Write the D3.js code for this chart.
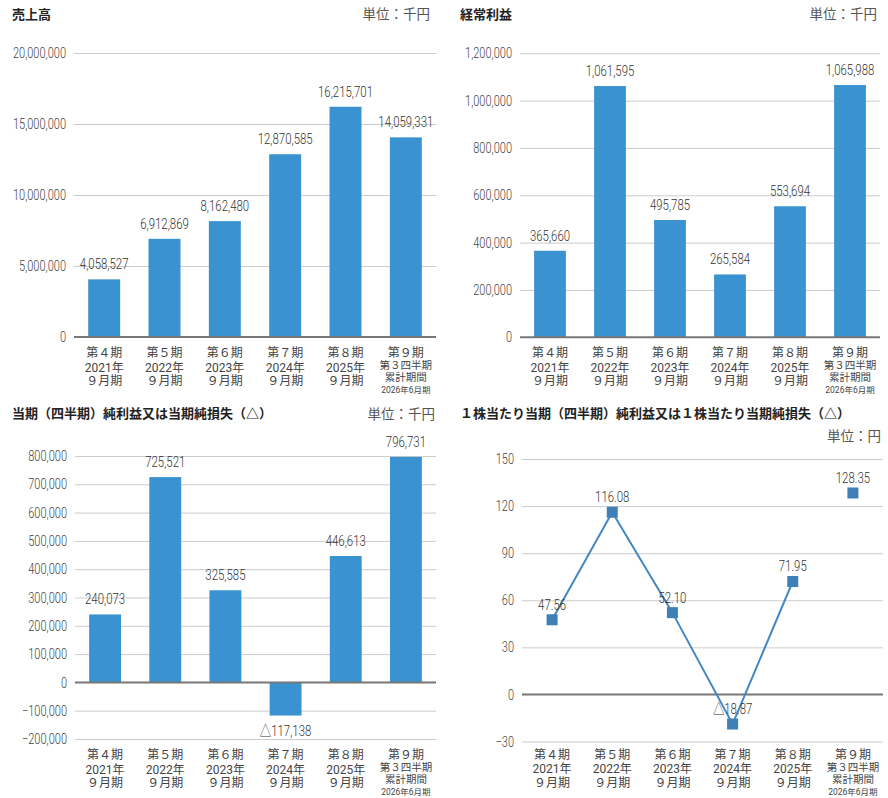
<!DOCTYPE html>
<html><head><meta charset="utf-8">
<script src="https://cdn.jsdelivr.net/npm/d3@7"></script>
<style>
body{margin:0;background:#fff;}
svg{display:block;}
.num{font-family:"Roboto","Noto Sans CJK JP",sans-serif;font-weight:300;}
.jp{font-family:"Roboto","Noto Sans CJK JP",sans-serif;}
.title{font-family:"Noto Sans CJK JP",sans-serif;font-weight:bold;}
</style></head>
<body>
<svg id="c" width="888" height="798"></svg>
<script>
// ---- data ----
const periodLabels = [
  ["第４期","2021年","９月期"],
  ["第５期","2022年","９月期"],
  ["第６期","2023年","９月期"],
  ["第７期","2024年","９月期"],
  ["第８期","2025年","９月期"],
  ["第９期","第３四半期","累計期間","2026年6月期"]
];
const categories = ["p4","p5","p6","p7","p8","p9"];
const sales = [4058527, 6912869, 8162480, 12870585, 16215701, 14059331];
const ordinaryProfit = [365660, 1061595, 495785, 265584, 553694, 1065988];
const netIncome = [240073, 725521, 325585, -117138, 446613, 796731];
const eps = [47.56, 116.08, 52.10, -18.87, 71.95, 128.35];
const epsConnected = [true, true, true, true, true, false];

const salesTicks = [0, 5000000, 10000000, 15000000, 20000000];
const profitTicks = [0, 200000, 400000, 600000, 800000, 1000000, 1200000];
const netTicks = [-200000, -100000, 0, 100000, 200000, 300000, 400000, 500000, 600000, 700000, 800000];
const epsTicks = [-30, 0, 30, 60, 90, 120, 150];

const titles = ["売上高", "経常利益", "当期（四半期）純利益又は当期純損失（△）", "１株当たり当期（四半期）純利益又は１株当たり当期純損失（△）"];
const units = ["単位：千円", "単位：千円", "単位：千円", "単位：円"];

// ---- styles ----
const BAR = "#3a93d0", LINE = "#4388c2", MARK = "#3d7fb6";
const GRID = "#cccccc", ZERO = "#777777";
const CONDENSE = 0.76;

const svg = d3.select("#c");
const fmtInt = v => (v < 0 ? "△" : "") + d3.format(",")(Math.abs(v));
const fmtDec = v => (v < 0 ? "△" : "") + d3.format(".2f")(Math.abs(v));

function frame(p) {
  const g = svg.append("g");
  g.append("text").attr("class","title").attr("x", p.titleX).attr("y", p.titleY)
    .attr("font-size", 13).attr("fill", "#222").text(p.title);
  g.append("text").attr("x", p.unitX).attr("y", p.unitY)
    .attr("text-anchor","end").attr("font-size", 13.5).attr("fill", "#555")
    .attr("font-family","Noto Sans CJK JP").text(p.unit);

  const x = d3.scaleBand().domain(categories).range(p.xr).paddingInner(0.47).paddingOuter(0.235);
  const y = d3.scaleLinear().domain(p.yd).range(p.yr);

  const yAxis = d3.axisLeft(y).tickValues(p.ticks).tickSize(-(p.xr[1]-p.xr[0])).tickPadding(8)
    .tickFormat(d => d3.format(",")(d));
  const ga = g.append("g").attr("transform", `translate(${p.xr[0]},0)`).call(yAxis);
  ga.select(".domain").remove();
  ga.selectAll(".tick line").attr("stroke", GRID).attr("stroke-width", 1);
  ga.selectAll(".tick text").attr("class","num").attr("font-size", 14.5).attr("fill", "#444");
  ga.selectAll(".tick").filter(d => d === 0).select("line").attr("stroke", "none");

  const xl = g.append("g");
  categories.forEach((c, i) => {
    const lines = periodLabels[i];
    const cx = x(c) + x.bandwidth()/2;
    const base = p.yr[0] + p.xlOff;
    const t = xl.append("text").attr("class","jp").attr("text-anchor","middle").attr("fill","#444");
    if (lines.length === 3) {
      [0, 14.5, 28].forEach((dy, k) => {
        t.append("tspan").attr("x", cx).attr("y", base + dy).attr("font-size", 12).text(lines[k]);
      });
    } else {
      const offs = [0, 12, 24, 36], sz = [12, 10.5, 10.5, 8.5];
      lines.forEach((s, k) => {
        t.append("tspan").attr("x", cx).attr("y", base + offs[k]).attr("font-size", sz[k]).text(s);
      });
    }
  });
  return {g, x, y};
}

function barChart(p, values) {
  const {g, x, y} = frame(p);
  g.selectAll("rect.bar").data(values).join("rect").attr("class","bar")
    .attr("x", (d, i) => x(categories[i]))
    .attr("width", x.bandwidth())
    .attr("y", d => y(Math.max(0, d)))
    .attr("height", d => Math.abs(y(d) - y(0)))
    .attr("fill", BAR);
  g.append("line").attr("x1", p.xr[0]).attr("x2", p.xr[1]).attr("y1", y(0)).attr("y2", y(0))
    .attr("stroke", ZERO).attr("stroke-width", 2);
  g.selectAll("text.val").data(values).join("text").attr("class","val num")
    .attr("x", (d, i) => x(categories[i]) + x.bandwidth()/2)
    .attr("y", d => d >= 0 ? y(d) - 10 : y(d) + 20)
    .attr("text-anchor","middle").attr("font-size", 15).attr("fill", "#333")
    .text(fmtInt);
}

function lineChart(p, values) {
  const {g, x, y} = frame(p);
  g.append("line").attr("x1", p.xr[0]).attr("x2", p.xr[1]).attr("y1", y(0)).attr("y2", y(0))
    .attr("stroke", ZERO).attr("stroke-width", 2);
  const cx = i => x(categories[i]) + x.bandwidth()/2;
  const line = d3.line().defined((d, i) => epsConnected[i]).x((d, i) => cx(i)).y(d => y(d));
  g.append("path").datum(values).attr("d", line).attr("fill","none")
    .attr("stroke", LINE).attr("stroke-width", 2);
  const s = 11;
  g.selectAll("rect.mk").data(values).join("rect").attr("class","mk")
    .attr("x", (d, i) => cx(i) - s/2).attr("y", d => y(d) - s/2)
    .attr("width", s).attr("height", s).attr("fill", MARK);
  g.selectAll("text.val").data(values).join("text").attr("class","val num")
    .attr("x", (d, i) => cx(i)).attr("y", d => y(d) - 10)
    .attr("text-anchor","middle").attr("font-size", 15).attr("fill", "#333")
    .text(fmtDec);
}

barChart({title: titles[0], unit: units[0], titleX: 12, titleY: 19, unitX: 430, unitY: 19,
  xr: [74, 436], yd: [0, 20000000], yr: [337, 53], ticks: salesTicks, xlOff: 20}, sales);
barChart({title: titles[1], unit: units[1], titleX: 460, titleY: 19, unitX: 877, unitY: 19,
  xr: [520, 880], yd: [0, 1200000], yr: [337.3, 53.3], ticks: profitTicks, xlOff: 20}, ordinaryProfit);
barChart({title: titles[2], unit: units[2], titleX: 12, titleY: 418, unitX: 435, unitY: 419,
  xr: [75, 436], yd: [-200000, 800000], yr: [739, 456], ticks: netTicks, xlOff: 20}, netIncome);
lineChart({title: titles[3], unit: units[3], titleX: 460, titleY: 418, unitX: 881, unitY: 441,
  xr: [522, 883], yd: [-30, 150], yr: [741.5, 459], ticks: epsTicks, xlOff: 17}, eps);

// condensed number style: horizontal scale about each text's anchor point
svg.selectAll("text.num").each(function() {
  const t = d3.select(this);
  const tx = +(t.attr("x") || 0), ty = +(t.attr("y") || 0);
  t.attr("x", 0).attr("y", 0)
   .attr("transform", `translate(${tx},${ty}) scale(${CONDENSE},1)`);
});
</script>
</body></html>
